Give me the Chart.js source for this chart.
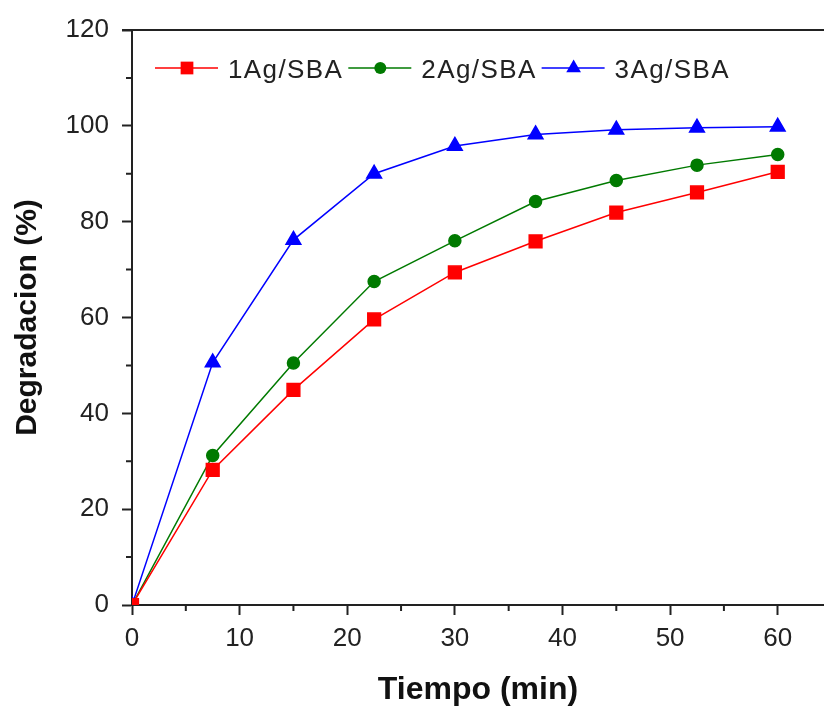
<!DOCTYPE html>
<html>
<head>
<meta charset="utf-8">
<script src="https://cdn.jsdelivr.net/npm/chart.js@4.4.1/dist/chart.umd.min.js"></script>
<style>
    html, body { margin: 0; padding: 0; background: #fff; overflow: hidden; }
    canvas { display: block; }
</style>
</head>
<body>
<canvas id="degradation-chart" width="824" height="709"></canvas>
<script>
const time = [0, 7.5, 15, 22.5, 30, 37.5, 45, 52.5, 60];
const ag1 = [0, 28.2, 44.9, 59.6, 69.4, 75.9, 81.9, 86.1, 90.4];
const ag2 = [0, 31.2, 50.5, 67.5, 76.0, 84.2, 88.6, 91.8, 94.0];
const ag3 = [0, 50.6, 76.2, 90.0, 95.8, 98.2, 99.2, 99.6, 99.8];

const xTicks = [0, 10, 20, 30, 40, 50, 60];
const xMinor = [5, 15, 25, 35, 45, 55];
const yTicks = [0, 20, 40, 60, 80, 100, 120];
const yMinor = [10, 30, 50, 70, 90, 110];

const axisColor = '#222';
const fontFamily = "'Liberation Sans', Arial, sans-serif";

const toPoints = (ys) => time.map((t, i) => ({ x: t, y: ys[i] }));

function marker(ctx, style, x, y, r, color) {
    ctx.fillStyle = color;
    ctx.beginPath();
    if (style === 'rect') {
        const s = Math.SQRT1_2 * r;
        ctx.rect(x - s, y - s, 2 * s, 2 * s);
    } else if (style === 'triangle') {
        ctx.moveTo(x, y - r);
        ctx.lineTo(x + Math.sin(2 * Math.PI / 3) * r, y + r / 2);
        ctx.lineTo(x - Math.sin(2 * Math.PI / 3) * r, y + r / 2);
        ctx.closePath();
    } else {
        ctx.arc(x, y, r, 0, Math.PI * 2);
    }
    ctx.fill();
}

// frame on top, minor ticks and the line+marker legend
const decorations = {
    id: 'decorations',
    afterDraw(chart) {
        const { ctx, chartArea, scales } = chart;
        ctx.save();
        ctx.strokeStyle = axisColor;
        ctx.lineWidth = 2;
        ctx.beginPath();
        ctx.moveTo(chartArea.left - 10, chartArea.top);
        ctx.lineTo(chartArea.right, chartArea.top);
        xMinor.forEach(v => {
            const px = scales.x.getPixelForValue(v);
            ctx.moveTo(px, chartArea.bottom);
            ctx.lineTo(px, chartArea.bottom + 6);
        });
        yMinor.forEach(v => {
            const py = scales.y.getPixelForValue(v);
            ctx.moveTo(chartArea.left - 6, py);
            ctx.lineTo(chartArea.left, py);
        });
        ctx.stroke();

        ctx.font = '26px ' + fontFamily;
        ctx.textBaseline = 'alphabetic';
        ctx.letterSpacing = '1.4px';
        let x = 155;
        const cy = 68;
        chart.data.datasets.forEach(ds => {
            ctx.strokeStyle = ds.borderColor;
            ctx.lineWidth = 1.5;
            ctx.beginPath();
            ctx.moveTo(x, cy);
            ctx.lineTo(x + 63, cy);
            ctx.stroke();
            marker(ctx, ds.pointStyle, x + 32, cy, ds.pointRadius, ds.pointBackgroundColor);
            ctx.fillStyle = '#222';
            ctx.fillText(ds.label, x + 73, cy + 10);
            x += 73 + ctx.measureText(ds.label).width + 5;
        });
        ctx.restore();
    }
};

new Chart(document.getElementById('degradation-chart'), {
    type: 'line',
    data: {
        datasets: [{
            label: '1Ag/SBA',
            data: toPoints(ag1),
            borderColor: '#FF0000',
            pointBackgroundColor: '#FF0000',
            pointBorderColor: '#FF0000',
            pointStyle: 'rect',
            pointRadius: 9,
            borderWidth: 1.5
        }, {
            label: '2Ag/SBA',
            data: toPoints(ag2),
            borderColor: '#007A00',
            pointBackgroundColor: '#007A00',
            pointBorderColor: '#007A00',
            pointStyle: 'circle',
            pointRadius: 6,
            borderWidth: 1.5
        }, {
            label: '3Ag/SBA',
            data: toPoints(ag3),
            borderColor: '#0000FF',
            pointBackgroundColor: '#0000FF',
            pointBorderColor: '#0000FF',
            pointStyle: 'triangle',
            pointRadius: 8.5,
            borderWidth: 1.5
        }]
    },
    options: {
        responsive: false,
        animation: false,
        layout: { autoPadding: false, padding: { top: 30, right: 0, left: 0, bottom: 0 } },
        plugins: {
            legend: { display: false },
            tooltip: { enabled: false }
        },
        elements: { line: { tension: 0 } },
        scales: {
            x: {
                type: 'linear',
                min: 0,
                max: 64.3,
                afterBuildTicks: (scale) => { scale.ticks = xTicks.map(v => ({ value: v })); },
                afterFit: (scale) => {
                    scale.height = 104;
                    scale.paddingLeft = 0;
                    scale.paddingRight = 0;
                },
                border: { color: axisColor, width: 2 },
                grid: { drawOnChartArea: false, tickLength: 10, tickColor: axisColor, tickWidth: 2 },
                ticks: {
                    color: '#222',
                    padding: 8,
                    maxRotation: 0,
                    font: { family: fontFamily, size: 26 }
                },
                title: {
                    display: true,
                    text: 'Tiempo (min)',
                    color: '#111',
                    padding: { top: 0, bottom: 0 },
                    font: { family: fontFamily, size: 32, weight: 'bold' }
                }
            },
            y: {
                min: 0,
                max: 120,
                afterBuildTicks: (scale) => { scale.ticks = yTicks.map(v => ({ value: v })); },
                afterFit: (scale) => {
                    scale.width = 132;
                    scale.paddingTop = 0;
                    scale.paddingBottom = 0;
                },
                border: { color: axisColor, width: 2 },
                grid: { drawOnChartArea: false, tickLength: 10, tickColor: axisColor, tickWidth: 2 },
                ticks: {
                    color: '#222',
                    padding: 13,
                    font: { family: fontFamily, size: 26 }
                },
                title: {
                    display: true,
                    text: 'Degradacion (%)',
                    color: '#111',
                    padding: { top: 10, bottom: 0 },
                    font: { family: fontFamily, size: 30, weight: 'bold' }
                }
            }
        }
    },
    plugins: [decorations]
});
</script>
</body>
</html>
